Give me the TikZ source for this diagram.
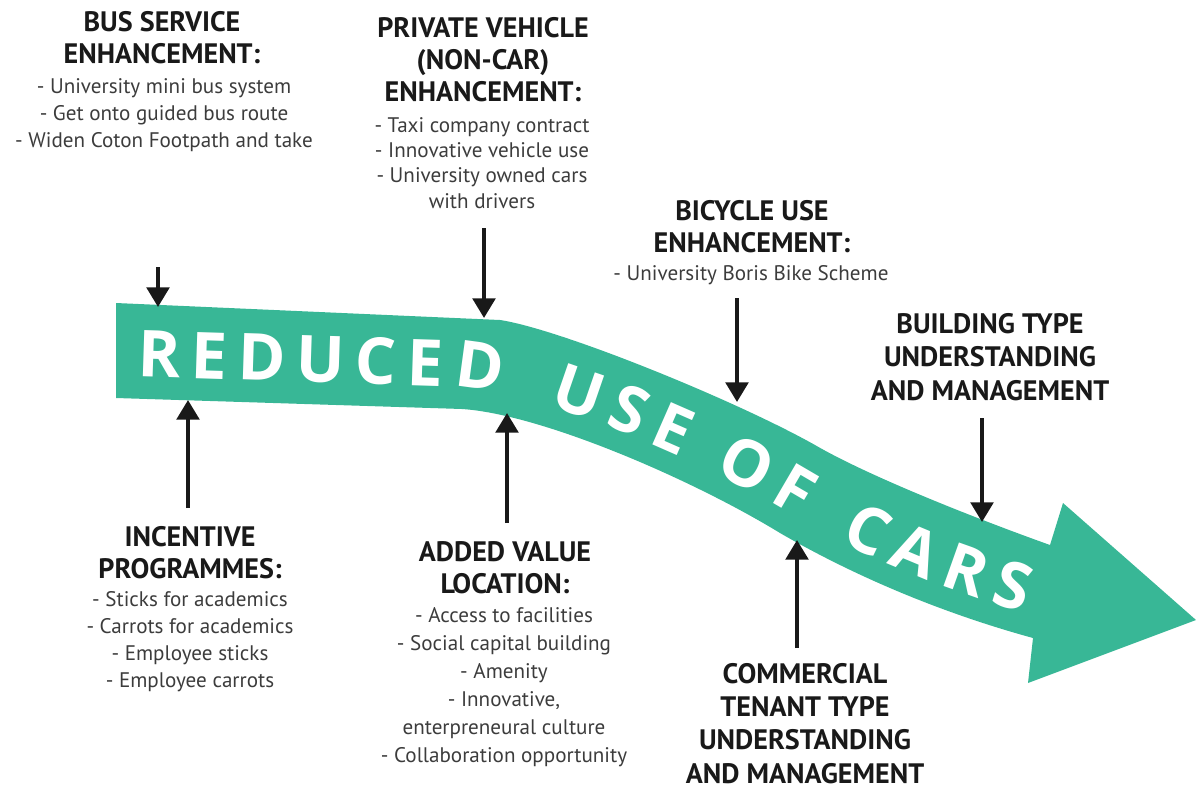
\documentclass[tikz,border=0pt]{standalone}
\usepackage{fontspec}
\setmainfont{PT Sans}
\newfontfamily\bandfont{Open Sans}
\usetikzlibrary{arrows.meta,decorations.text}
\definecolor{bandgreen}{RGB}{56,183,150}
\definecolor{inkblack}{RGB}{25,25,25}
\definecolor{bodygray}{RGB}{60,60,60}
\newcommand\bandline{(116,376) -- (465,387) .. controls (540,392) and (701,460) .. (791,514) .. controls (875,564) and (964,597) .. (1039,617) -- (1120,639)}
\newcommand\bk{\kern7.5pt}
\newcommand\bkk{\kern8pt}
\newcommand\bandfmt{\bandfont\fontsize{46}{46}\selectfont\bfseries}
\begin{document}
\begin{tikzpicture}[x=0.025cm, y=-0.025cm,
    head/.style={font={\fontsize{20}{22.5}\selectfont\bfseries}, align=center, anchor=base, inner sep=0pt, text=inkblack},
    body/.style={font={\fontsize{15}{19}\selectfont}, align=center, anchor=base, inner sep=0pt, text=bodygray},
    arrow/.style={-{Triangle[length=14pt, width=16pt]}, line width=2.9pt, draw=inkblack},
    bandtext/.style={decorate, decoration={text along path, text color=white, text align={left indent=#1}}}
]
    \useasboundingbox (0,0) rectangle (1196,790);

    % 绿色箭头
    \fill[bandgreen] (116,303) -- (500,320) .. controls (560,329) and (735,400) .. (815,445)
        .. controls (870,477) and (980,520) .. (1050,545) -- (1063,503) -- (1196,620) -- (1028,683)
        -- (1033,638) .. controls (960,618) and (870,585) .. (780,533)
        .. controls (690,478) and (540,414) .. (462,409) -- (116,398) -- cycle;
    \path[bandtext=15pt, decoration={text={|\bandfmt|R{\bk}E{\bk}D{\bk}U{\bk}C{\bk}E{\bk}D}}] \bandline;
    \path[bandtext=309pt, decoration={text={|\bandfmt|U{\bk}S{\bk}E}}] \bandline;
    \path[bandtext=436pt, decoration={text={|\bandfmt|O{\bk}F}}] \bandline;
    \path[bandtext=538pt, decoration={text={|\bandfmt|C{\bkk}A{\bkk}R{\bkk}S}}] \bandline;

    % 上方标注
    \node[head] (bushead) at (162,63) {BUS SERVICE\\ENHANCEMENT:};
    \node[body] (busbody) at (164,147) {- University mini bus system\\- Get onto guided bus route\\- Widen Coton Footpath and take};
    \node[head] (pvthead) at (483,101) {PRIVATE VEHICLE\\(NON-CAR)\\ENHANCEMENT:};
    \node[body, font={\fontsize{15}{17.8}\selectfont}] (pvtbody) at (482,208) {- Taxi company contract\\- Innovative vehicle use\\- University owned cars\\with drivers};
    \node[head] (bikehead) at (752,252) {BICYCLE USE\\ENHANCEMENT:};
    \node[body] (bikebody) at (751,280) {- University Boris Bike Scheme};
    \node[head, font={\fontsize{20}{23.5}\selectfont\bfseries}] (buildhead) at (990,400) {BUILDING TYPE\\UNDERSTANDING\\AND MANAGEMENT};

    % 下方标注
    \node[head] (inchead) at (190,578) {INCENTIVE\\PROGRAMMES:};
    \node[body] (incbody) at (190,687) {- Sticks for academics\\- Carrots for academics\\- Employee sticks\\- Employee carrots};
    \node[head] (addhead) at (505,593) {ADDED VALUE\\LOCATION:};
    \node[body, font={\fontsize{15}{19.9}\selectfont}] (addbody) at (504,762) {- Access to facilities\\- Social capital building\\- Amenity\\- Innovative,\\enterpreneural culture\\- Collaboration opportunity};
    \node[head, font={\fontsize{20}{23.5}\selectfont\bfseries}] (comhead) at (805,783) {COMMERCIAL\\TENANT TYPE\\UNDERSTANDING\\AND MANAGEMENT};

    % 箭头
    \coordinate (bus-from) at (158,267);   \coordinate (bus-to) at (158,307);
    \coordinate (pvt-from) at (484,228);   \coordinate (pvt-to) at (484,318);
    \coordinate (bike-from) at (737,298);  \coordinate (bike-to) at (737,402);
    \coordinate (build-from) at (982,418); \coordinate (build-to) at (982,522);
    \coordinate (inc-from) at (188,508);   \coordinate (inc-to) at (188,400);
    \coordinate (add-from) at (507,523);   \coordinate (add-to) at (507,413);
    \coordinate (com-from) at (797,648);   \coordinate (com-to) at (797,540);

    \draw[arrow] (bus-from) -- (bus-to);
    \draw[arrow] (pvt-from) -- (pvt-to);
    \draw[arrow] (bike-from) -- (bike-to);
    \draw[arrow] (build-from) -- (build-to);
    \draw[arrow] (inc-from) -- (inc-to);
    \draw[arrow] (add-from) -- (add-to);
    \draw[arrow] (com-from) -- (com-to);
\end{tikzpicture}
\end{document}
